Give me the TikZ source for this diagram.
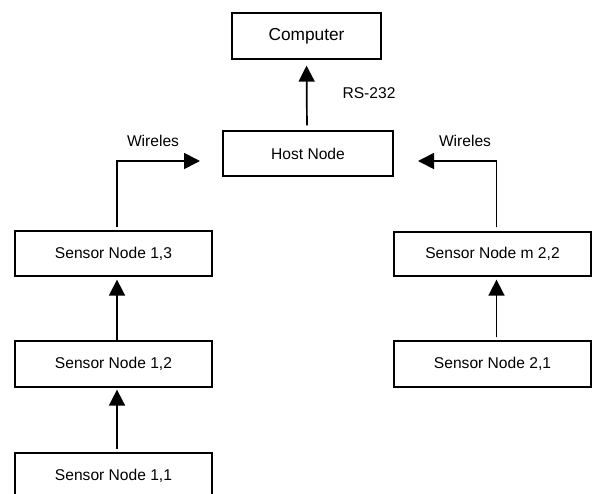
\documentclass[tikz,border=0pt]{standalone}
\usepackage{fontspec}
\setmainfont{Liberation Sans}
\usetikzlibrary{arrows.meta}
\begin{document}
\begin{tikzpicture}[x=1pt,y=-1pt,
  box/.style={draw, line width=1.3pt, inner sep=0pt, font=\fontsize{15.6}{18}\selectfont, minimum width=197pt, minimum height=45pt},
  lbl/.style={font=\fontsize{15.6}{18}\selectfont, inner sep=0pt},
  conn/.style={line width=1.7pt, -{Triangle[width=16pt,length=16pt]}}]
\useasboundingbox (0,0) rectangle (592,493);
\clip (0,0) rectangle (592,493);
\node[box, minimum width=149pt, minimum height=46pt, font=\fontsize{17.3}{20}\selectfont] (comp) at (306.5,36) {Computer};
\node[box, minimum width=170pt] (host) at (308,153.5) {Host Node};
\node[box] (s13) at (113.5,253.5) {Sensor Node 1,3};
\node[box, minimum height=46pt] (s12) at (113.5,364) {Sensor Node 1,2};
\node[box, minimum height=46pt] (s11) at (113.5,476) {Sensor Node 1,1};
\node[box, minimum height=44pt] (s22) at (492.5,254) {Sensor Node m 2,2};
\node[box, minimum height=46pt] (s21) at (492.5,364) {Sensor Node 2,1};
\node[lbl] (rs) at (369,93) {RS-232};
\node[lbl] (wl) at (153,141) {Wireles};
\node[lbl] (wr) at (465,141) {Wireles};
\coordinate (tl) at (200,161);
\coordinate (tr) at (418,161);
\draw[conn, shorten <=5pt, shorten >=6pt] ([xshift=-1pt]host.north) -- (comp.south);
\draw[conn, shorten >=3pt] ([xshift=3.5pt]s12.north) -- ([xshift=3.5pt]s13.south);
\draw[conn, shorten <=3pt, shorten >=2pt] ([xshift=3.5pt]s11.north) -- ([xshift=3.5pt]s12.south);
\draw[conn, shorten <=3pt, shorten >=3pt] ([xshift=4pt]s21.north) -- ([xshift=4pt]s22.south);
\draw[conn, shorten <=3pt] ([xshift=3.5pt]s13.north) |- (tl);
\draw[conn, shorten <=4pt] ([xshift=4pt]s22.north) |- (tr);
\end{tikzpicture}
\end{document}
